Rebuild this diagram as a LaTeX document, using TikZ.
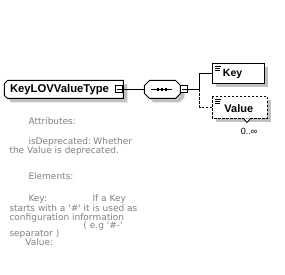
\documentclass[tikz,border=0pt]{standalone}
\usepackage{fontspec}
\setmainfont{Liberation Sans}
\newfontfamily\descfont{DejaVu Sans}
\usetikzlibrary{calc}
\definecolor{shadowgray}{RGB}{192,192,192}
\definecolor{descgray}{RGB}{128,128,128}
\begin{document}
\begin{tikzpicture}[x=1pt,y=-1pt,
  line width=1pt,
  frame/.style={inner sep=0pt, draw=none},
  boxlbl/.style={anchor=west, inner sep=0pt, font=\bfseries\fontsize{10.5}{12}\selectfont},
  minusbox/.style={draw=black, fill=white, inner sep=0pt, minimum width=7pt, minimum height=7pt},
  desc/.style={anchor=base west, inner sep=0pt, text=descgray, font=\descfont\fontsize{9}{11}\selectfont},
  dashbox/.style={dash pattern=on 2.5pt off 1.5pt},
  shadowfill/.style={fill=shadowgray, draw=none}
]
\useasboundingbox (0,0) rectangle (285,275);

% ---------- main complex type box ----------
\node[frame, minimum width=118pt, minimum height=17pt] (main) at (64,89.5) {};
\fill[shadowfill] ($(main.north west)+(4,7)$) -- ($(main.north west)+(7,4)$) -- ($(main.north east)+(4,4)$) -- ($(main.south east)+(4,4)$) -- ($(main.south west)+(7,4)$) -- ($(main.south west)+(4,1)$) -- cycle;
\draw[fill=white] ($(main.north west)+(0,3)$) -- ($(main.north west)+(3,0)$) -- (main.north east) -- (main.south east) -- ($(main.south west)+(3,0)$) -- ($(main.south west)+(0,-3)$) -- cycle;
\node[boxlbl, font=\bfseries\fontsize{11.3}{13}\selectfont] (mainlbl) at (9.5,89.5) {KeyLOVValueType};
\node[minusbox, anchor=east] (mainminus) at (main.east) {};
\draw ([xshift=1.5pt]mainminus.west) -- ([xshift=-1.5pt]mainminus.east);

% ---------- sequence compositor ----------
\node[frame, minimum width=35pt, minimum height=17pt] (seq) at (162.5,89.5) {};
\fill[shadowfill] ($(seq.north west)+(4,9)$) -- ($(seq.north west)+(9,4)$) -- ($(seq.north east)+(-1,4)$) -- ($(seq.north east)+(4,9)$) -- ($(seq.south east)+(4,-1)$) -- ($(seq.south east)+(-1,4)$) -- ($(seq.south west)+(9,4)$) -- ($(seq.south west)+(4,-1)$) -- cycle;
\draw[fill=white] ($(seq.north west)+(0,5)$) -- ($(seq.north west)+(5,0)$) -- ($(seq.north east)+(-5,0)$) -- ($(seq.north east)+(0,5)$) -- ($(seq.south east)+(0,-5)$) -- ($(seq.south east)+(-5,0)$) -- ($(seq.south west)+(5,0)$) -- ($(seq.south west)+(0,-5)$) -- cycle;
\draw ($(seq.center)+(-11,0)$) -- ($(seq.center)+(10,0)$);
\foreach \dx in {-4,0,4} \fill ($(seq.center)+(\dx-1,-1.2)$) rectangle ($(seq.center)+(\dx+1,1.2)$);
\node[minusbox, anchor=west] (seqminus) at (seq.east) {};
\draw ([xshift=1.5pt]seqminus.west) -- ([xshift=-1.5pt]seqminus.east);

% ---------- child elements ----------
\node[frame, minimum width=51pt, minimum height=19pt] (key) at (238.5,73.5) {};
\fill[shadowfill] ($(key.north west)+(4,4)$) rectangle ($(key.south east)+(4,4)$);
\draw[fill=white] (key.north west) rectangle (key.south east);
\foreach \dy/\w in {2.5/6,4.5/5,6.5/5} \draw[line width=0.8pt] ($(key.north west)+(2.5,\dy)$) -- ++(\w,0);
\node[boxlbl] (keylbl) at (222.5,74) {Key};

\node[frame, minimum width=54pt, minimum height=21pt] (value) at (240,107.5) {};
\fill[shadowfill] ($(value.north west)+(4,4)$) rectangle ($(value.south east)+(4,4)$);
\draw[fill=white, dashbox] (value.north west) rectangle (value.south east);
\foreach \dy/\w in {2.5/6,4.5/5,6.5/5} \draw[line width=0.8pt] ($(value.north west)+(2.5,\dy)$) -- ++(\w,0);
\node[boxlbl, font=\bfseries\fontsize{11}{12}\selectfont] (valuelbl) at (224,108.5) {Value};
\draw[fill=white, line width=0.8pt] ($(value.south)+(3.5,0)$) -- ++(3.5,4) -- ++(3.5,-4);
\node[inner sep=0pt, font=\fontsize{9}{10}\selectfont] (occ) at (249,131) {0..∞};

% ---------- connectors ----------
\coordinate (br) at (200,89.5);
\draw (main.east) -- (seq.west);
\draw (seqminus.east) -- (br);
\draw (br) |- (key.west);
\draw[dashbox] (br) |- (value.west);

% ---------- documentation text ----------
\node[desc] (d1) at (28,125) {Attributes:};
\node[desc] (d2) at (28,145) {isDeprecated:};
\node[desc] (d2b) at (93,145) {Whether};
\node[desc] (d3) at (9,154) {the Value is deprecated.};
\node[desc] (d4) at (28,180) {Elements:};
\node[desc] (d5) at (28,202) {Key:};
\node[desc] (d5b) at (92,202) {If a Key};
\node[desc] (d6) at (9,211.5) {starts with a '\#' it is used as};
\node[desc] (d7) at (9,220.5) {configuration information};
\node[desc] (d8) at (83,229) {( e.g '\#-'};
\node[desc] (d9) at (9,237) {separator )};
\node[desc] (d10) at (25,246) {Value:};
\end{tikzpicture}
\end{document}
